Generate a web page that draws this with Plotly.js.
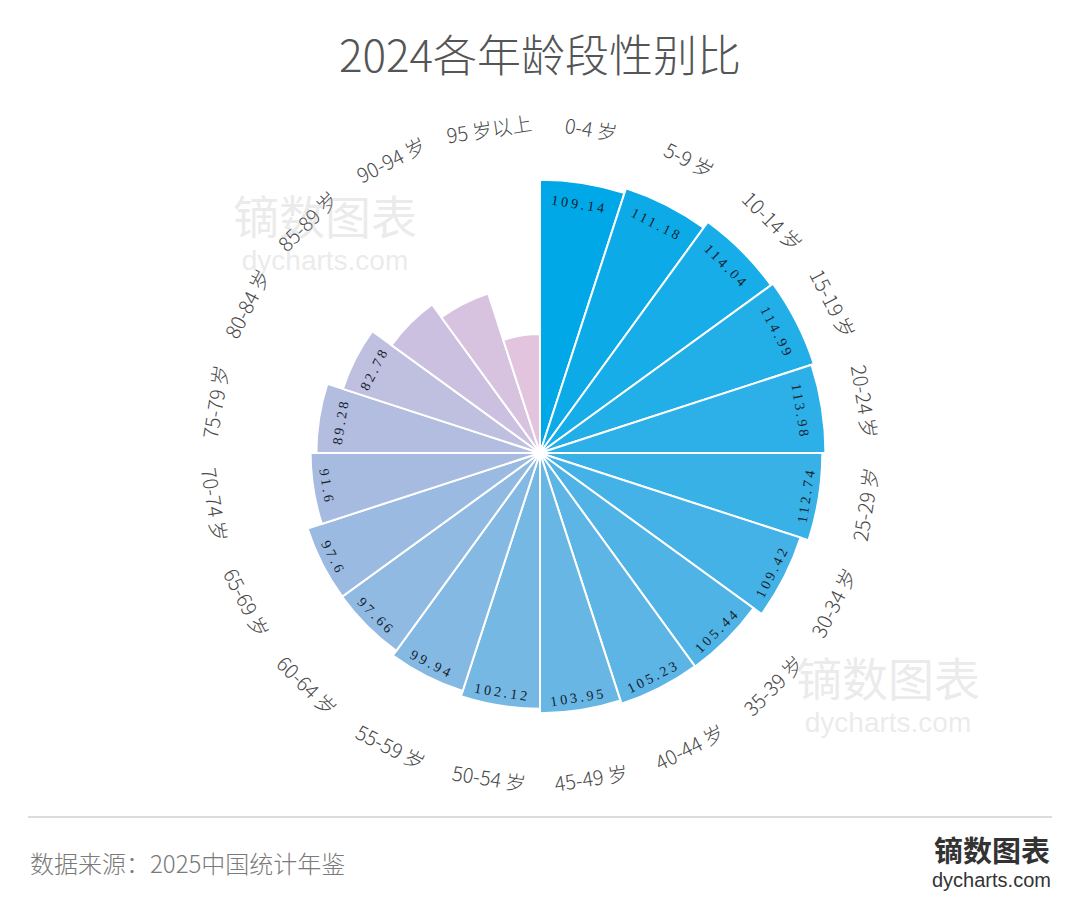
<!DOCTYPE html>
<html>
<head>
<meta charset="utf-8">
<script src="https://cdn.plot.ly/plotly-3.0.1.min.js"></script>
<style>
  html, body { margin: 0; padding: 0; background: #fff; }
  #chart { width: 1080px; height: 918px; }
</style>
</head>
<body>
<div id="chart"></div>
<script>
// ── Data ─────────────────────────────────────────────────────────────
const ageGroups = ['0-4 岁', '5-9 岁', '10-14 岁', '15-19 岁', '20-24 岁', '25-29 岁',
                   '30-34 岁', '35-39 岁', '40-44 岁', '45-49 岁', '50-54 岁', '55-59 岁',
                   '60-64 岁', '65-69 岁', '70-74 岁', '75-79 岁', '80-84 岁', '85-89 岁',
                   '90-94 岁', '95 岁以上'];
const sexRatio = [109.14, 111.18, 114.04, 114.99, 113.98, 112.74, 109.42, 105.44, 105.23,
                  103.95, 102.12, 99.94, 97.66, 97.6, 91.6, 89.28, 82.78, 73.3, 67.0, 47.5];
// the last three bars carry no number in the source picture
const valueLabels = ['109.14', '111.18', '114.04', '114.99', '113.98', '112.74', '109.42',
                     '105.44', '105.23', '103.95', '102.12', '99.94', '97.66', '97.6', '91.6',
                     '89.28', '82.78', '', '', ''];

const barColors = ['#00A8E8', '#0CABE8', '#17ADE8', '#22AEE7', '#2DB0E7', '#38B1E6', '#44B2E6',
                   '#50B3E5', '#5CB5E5', '#68B6E4', '#76B8E4', '#84B9E3', '#90BAE2', '#9BBAE1',
                   '#A7BBE0', '#B3BDE0', '#BFBFE0', '#CBC0E0', '#D7C2E0', '#E2C4DF'];

// ── Geometry of the polar area (pixels) ─────────────────────────────
const W = 1080, H = 918;
const CX = 540, CY = 453;      // centre, from top-left
const R_PX = 300.5;            // radius of the polar area
const R_MAX = 120;             // radial range upper bound
const pxPerUnit = R_PX / R_MAX;

function toPaper(rPx, deg) {
    const a = deg * Math.PI / 180;
    return {
        x: (CX + rPx * Math.sin(a)) / W,
        y: 1 - (CY - rPx * Math.cos(a)) / H
    };
}

// keep text upright: rotate along the tangent, flip on the lower half
function tangentAngle(deg) {
    if (deg <= 90) return deg;
    if (deg < 270) return deg - 180;
    return deg - 360;
}

const step = 360 / ageGroups.length;
const annotations = [];

// value labels inside the bars
valueLabels.forEach((txt, i) => {
    if (!txt) return;
    const deg = step * i + step / 2;
    const flipped = deg > 90 && deg < 270;
    const r = sexRatio[i] * pxPerUnit - (flipped ? 13 : 22);
    const p = toPaper(r, deg);
    annotations.push({
        text: txt, x: p.x, y: p.y, xref: 'paper', yref: 'paper',
        xanchor: 'center', yanchor: 'middle', showarrow: false,
        textangle: tangentAngle(deg),
        font: { family: 'Liberation Serif, DejaVu Serif, serif', size: 14, color: '#15222f' }
    });
});
const nValueLabels = annotations.length;

// category labels round the outside
ageGroups.forEach((name, i) => {
    const deg = step * i + step / 2;
    const p = toPaper(329, deg);
    annotations.push({
        text: name, x: p.x, y: p.y, xref: 'paper', yref: 'paper',
        xanchor: 'center', yanchor: 'middle', showarrow: false,
        textangle: tangentAngle(deg),
        font: { family: 'Noto Sans CJK SC, Noto Sans, sans-serif', size: 20, color: '#4a4a4a', weight: 300 }
    });
});

// watermarks (two lines in one text block)
const wm = 'rgba(185,185,185,0.3)';
[[325, 228], [888, 690]].forEach(([x, y]) => {
    annotations.push({
        text: '<span style="font-size:46px;font-family:Noto Sans CJK SC">镝数图表</span><br>dycharts.com',
        x: x / W, y: 1 - y / H, xref: 'paper', yref: 'paper',
        xanchor: 'center', yanchor: 'middle', align: 'center', showarrow: false,
        font: { family: 'Liberation Sans, sans-serif', size: 28, color: wm }
    });
});

// footer
annotations.push({
    text: '数据来源：2025中国统计年鉴', x: 28 / W, y: 1 - 862 / H,
    xref: 'paper', yref: 'paper', xanchor: 'left', yanchor: 'middle', showarrow: false,
    font: { family: 'Noto Sans CJK SC', size: 24, color: '#7a7a7a', weight: 300 }
});
annotations.push({
    text: '<b>镝数图表</b>', x: 1052 / W, y: 1 - 849 / H,
    xref: 'paper', yref: 'paper', xanchor: 'right', yanchor: 'middle', showarrow: false,
    font: { family: 'Noto Sans CJK SC', size: 29, color: '#333' }
});
annotations.push({
    text: 'dycharts.com', x: 1053 / W, y: 1 - 880 / H,
    xref: 'paper', yref: 'paper', xanchor: 'right', yanchor: 'middle', showarrow: false,
    font: { family: 'Liberation Sans, Arial, sans-serif', size: 20, color: '#333' }
});

const trace = {
    type: 'barpolar',
    r: sexRatio,
    theta: ageGroups,
    marker: { color: barColors, line: { color: '#ffffff', width: 2 } },
    hoverinfo: 'theta+r'
};

const layout = {
    width: W, height: H,
    margin: { l: 0, r: 0, t: 0, b: 0 },
    paper_bgcolor: '#ffffff',
    showlegend: false,
    title: {
        text: '2024各年龄段性别比',
        x: 0.5, xanchor: 'center', y: 1 - 57 / H, yanchor: 'middle',
        font: { family: 'Noto Sans CJK SC', size: 44, color: '#555', weight: 300 }
    },
    polar: {
        domain: {
            x: [(CX - R_PX) / W, (CX + R_PX) / W],
            y: [1 - (CY + R_PX) / H, 1 - (CY - R_PX) / H]
        },
        bgcolor: 'rgba(0,0,0,0)',
        bargap: 0,
        radialaxis: { range: [0, R_MAX], visible: false },
        angularaxis: {
            type: 'category',
            rotation: 90 - step / 2,
            direction: 'clockwise',
            showticklabels: false, ticks: '', showgrid: false, showline: false
        }
    },
    shapes: [{
        type: 'line', xref: 'paper', yref: 'paper',
        x0: 28 / W, x1: 1052 / W, y0: 1 - 817 / H, y1: 1 - 817 / H,
        line: { color: '#dcdcdc', width: 2 }
    }],
    annotations: annotations
};

Plotly.newPlot('chart', [trace], layout, { displayModeBar: false, staticPlot: true }).then(() => {
    // spaced-out digits for the value labels
    document.querySelectorAll('#chart .annotation').forEach(g => {
        const idx = parseInt(g.getAttribute('data-index'));
        if (idx < nValueLabels) {
            const t = g.querySelector('text');
            if (t) t.style.letterSpacing = '3px';
        }
    });
});
</script>
</body>
</html>
